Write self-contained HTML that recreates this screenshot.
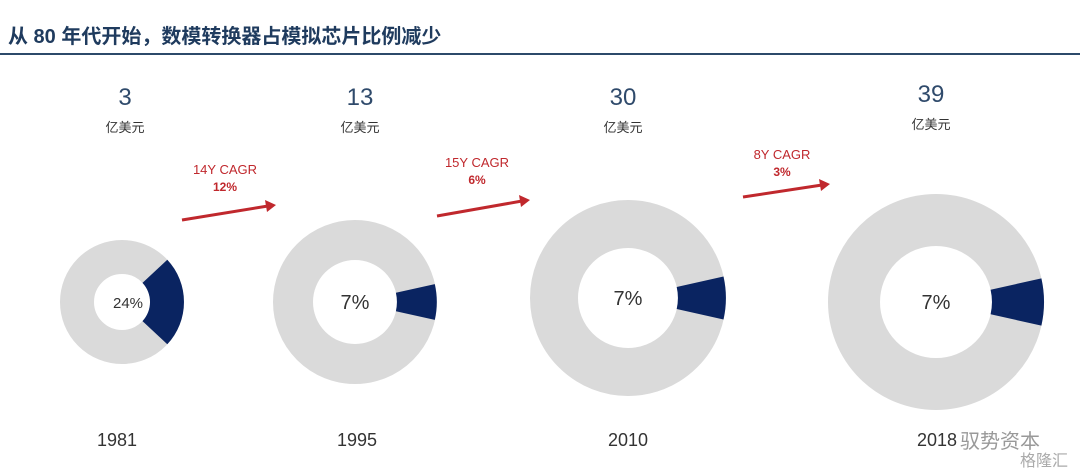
<!DOCTYPE html>
<html><head><meta charset="utf-8"><style>
body{margin:0;width:1080px;height:470px;background:#fff;overflow:hidden}
text{font-family:"Liberation Sans","Noto Sans CJK SC",sans-serif}
</style></head><body>
<svg width="1080" height="470" viewBox="0 0 1080 470">
<text x="8" y="43" font-size="20" font-weight="bold" fill="#1f3b5e">从 80 年代开始，数模转换器占模拟芯片比例减少</text>
<rect x="0" y="53" width="1080" height="2" fill="#2c4a6a"/>
<g fill="#2f4a6b" text-anchor="middle">
<text x="125" y="105" font-size="24">3</text>
<text x="125" y="132" font-size="13" fill="#333">亿美元</text>
<text x="360" y="105" font-size="24">13</text>
<text x="360" y="132" font-size="13" fill="#333">亿美元</text>
<text x="623" y="105" font-size="24">30</text>
<text x="623" y="132" font-size="13" fill="#333">亿美元</text>
<text x="931" y="102" font-size="24">39</text>
<text x="931" y="129" font-size="13" fill="#333">亿美元</text>
</g>
<g fill="#c0282d" text-anchor="middle" font-size="13">
<text x="225" y="174">14Y CAGR</text><text x="225" y="191" font-weight="bold" font-size="12">12%</text>
<text x="477" y="167">15Y CAGR</text><text x="477" y="184" font-weight="bold" font-size="12">6%</text>
<text x="782" y="159">8Y CAGR</text><text x="782" y="176" font-weight="bold" font-size="12">3%</text>
</g>
<g stroke="#c0282d" stroke-width="3" fill="#c0282d">
<line x1="182" y1="220" x2="268" y2="206"/><polygon stroke="none" points="276,205 265,200 267,212"/>
<line x1="437" y1="216" x2="522" y2="201"/><polygon stroke="none" points="530,200 519,195 521,207"/>
<line x1="743" y1="197" x2="822" y2="185"/><polygon stroke="none" points="830,184 819,179 821,191"/>
</g>
<!-- donuts -->
<g>
<circle cx="122" cy="302" r="45" fill="none" stroke="#dadada" stroke-width="34"/>
<path d="M167.3,259.7 A62,62 0 0 1 167.3,344.3 L142.5,321.1 A28,28 0 0 0 142.5,282.9 Z" fill="#0a2461"/>
<circle cx="355" cy="302" r="62" fill="none" stroke="#dadada" stroke-width="40"/>
<path d="M434.8,284.1 A82,82 0 0 1 434.8,319.9 L395.9,311.2 A42,42 0 0 0 395.9,292.8 Z" fill="#0a2461"/>
<circle cx="628" cy="298" r="74" fill="none" stroke="#dadada" stroke-width="48"/>
<path d="M723.5,276.5 A98,98 0 0 1 723.5,319.5 L676.7,309.0 A50,50 0 0 0 676.7,287.0 Z" fill="#0a2461"/>
<circle cx="936" cy="302" r="82" fill="none" stroke="#dadada" stroke-width="52"/>
<path d="M1041.4,278.4 A108,108 0 0 1 1041.4,325.6 L990.6,314.3 A56,56 0 0 0 990.6,289.7 Z" fill="#0a2461"/>
</g>
<g fill="#333" text-anchor="middle">
<text x="128" y="308" font-size="15">24%</text>
<text x="355" y="309" font-size="20">7%</text>
<text x="628" y="305" font-size="20">7%</text>
<text x="936" y="309" font-size="20">7%</text>
</g>
<g fill="#333" text-anchor="middle" font-size="18">
<text x="117" y="446">1981</text>
<text x="357" y="446">1995</text>
<text x="628" y="446">2010</text>
<text x="937" y="446">2018</text>
</g>
<text x="960" y="448" font-size="20" fill="#999">驭势资本</text>
<text x="1020" y="466" font-size="16" fill="#aaa">格隆汇</text>
</svg>
</body></html>
